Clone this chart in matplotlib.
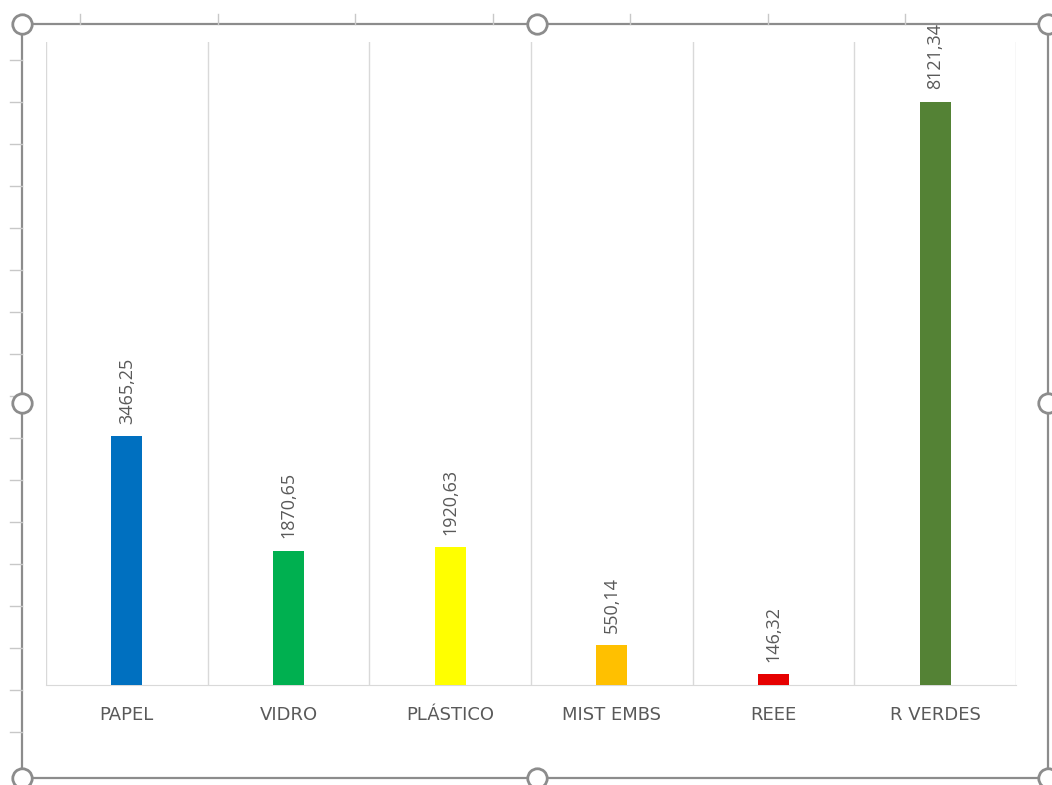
import numpy as np
import matplotlib
matplotlib.use("Agg")
from matplotlib import pyplot as plt
from matplotlib.patches import Rectangle

categories = ["PAPEL", "VIDRO", "PLÁSTICO", "MIST EMBS", "REEE", "R VERDES"]
values = [3465.25, 1870.65, 1920.63, 550.14, 146.32, 8121.34]
labels = ["3465,25", "1870,65", "1920,63", "550,14", "146,32", "8121,34"]
colors = ["#0070C0", "#00B050", "#FFFF00", "#FFC000", "#E60000", "#548235"]

W, H = 1052, 785
fig = plt.figure(figsize=(W / 100, H / 100), dpi=100)
plt.rcParams['font.family'] = ['Open Sans', 'DejaVu Sans']

# plot area in pixels
x0, x1, y_top, y_bot = 46, 1016, 42, 685
ax = fig.add_axes([x0 / W, 1 - y_bot / H, (x1 - x0) / W, (y_bot - y_top) / H])

x = np.arange(len(categories))
ax.bar(x, values, width=0.19, color=colors, zorder=3)
ax.set_xlim(-0.5, len(categories) - 0.5)
ax.set_ylim(0, 8950)

# vertical gridlines between categories
for b in np.arange(-0.5, len(categories), 1.0):
    ax.axvline(b, color="#D9D9D9", lw=1, zorder=1)

for xi, v, lab in zip(x, values, labels):
    ax.annotate(lab, (xi, v), xytext=(0, 9), textcoords="offset points",
                rotation=90, ha="center", va="bottom", fontsize=13,
                color="#595959", zorder=4)

for s in ["top", "left", "right"]:
    ax.spines[s].set_visible(False)
ax.spines["bottom"].set_color("#D9D9D9")
ax.set_yticks([])
ax.set_xticks(x)
ax.set_xticklabels(categories, fontsize=13, color="#595959", family="DejaVu Sans")
ax.tick_params(axis="x", length=0, pad=15)

# chart frame and selection handles
fx0, fy0, fx1, fy1 = 22, 24, 1048, 778
fig.add_artist(Rectangle((fx0 / W, 1 - fy1 / H), (fx1 - fx0) / W, (fy1 - fy0) / H,
                         transform=fig.transFigure, fill=False, ec="#8C8C8C", lw=1.6))
# small ruler ticks outside the frame
for ty in range(60, 770, 42):
    fig.add_artist(plt.Line2D([10 / W, fx0 / W], [1 - ty / H] * 2, color="#C8C8C8",
                              lw=1, transform=fig.transFigure))
for tx in [80, 218, 355, 493, 630, 768, 905]:
    fig.add_artist(plt.Line2D([tx / W] * 2, [1 - 14 / H, 1 - fy0 / H], color="#C8C8C8",
                              lw=1, transform=fig.transFigure))
for hx, hy in [(fx0, fy0), (537, fy0), (fx1, fy0), (fx0, 403), (fx1, 403),
               (fx0, fy1), (537, fy1), (fx1, fy1)]:
    fig.add_artist(plt.Line2D([hx / W], [1 - hy / H], marker="o", markersize=14,
                              markerfacecolor="white", markeredgecolor="#8C8C8C",
                              markeredgewidth=2, transform=fig.transFigure))

fig.savefig("out.png", dpi=100)
